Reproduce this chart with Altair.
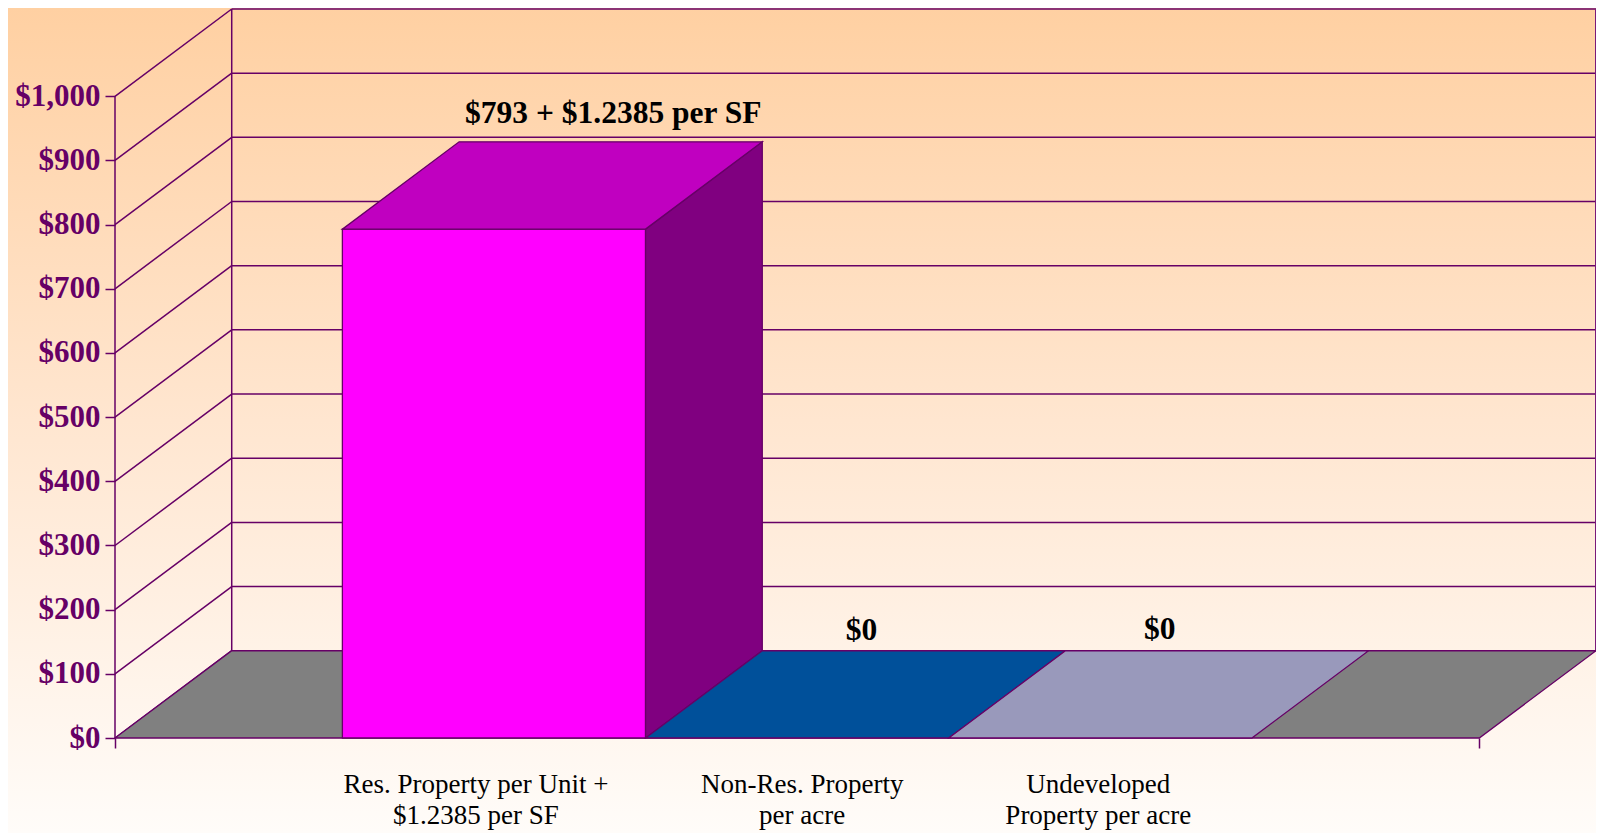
import altair as alt
import pandas as pd

# ---------------- data ----------------
CATEGORIES = [
    "Res. Property per Unit +\n$1.2385 per SF",
    "Non-Res. Property\nper acre",
    "Undeveloped\nProperty per acre",
]
VALUES = [793, 0, 0]
VALUE_LABELS = ["$793 + $1.2385 per SF", "$0", "$0"]
Y_TICKS = [0, 100, 200, 300, 400, 500, 600, 700, 800, 900, 1000]

FRONT_COLORS = ["#FF00FF", "#00509A", "#9999BB"]
TOP_COLORS = ["#C000C0", "#00509A", "#9999BB"]
SIDE_COLORS = ["#800080", "#003F7A", "#7A7A99"]
FLOOR_COLOR = "#808080"
LINE = "#660066"

# ---------------- geometry / style ----------------
PAD_LEFT = 107
W, H = 1481, 729
PAD_BOTTOM = 95
DX = 0.385          # depth offset in category units
DY = 136            # depth offset in value units
LEFT_GAP = 0.75
BAR_W = 1.0
AXIS_END = 4.5
XMAX = AXIS_END + DX
YMAX = 1000 + DY
LABEL_DX = [-18, 5, -2]
VALUE_DX = [61, 6, 1]
VALUE_DY = [-19, -11, -12]
SERIF = "Liberation Serif"

xscale = alt.Scale(domain=[0, XMAX], nice=False, zero=False)
yscale = alt.Scale(domain=[0, YMAX], nice=False, zero=False)
xaxis = alt.Axis(values=[0, AXIS_END], labels=False, domain=False, grid=False,
                 ticks=True, tickSize=10, tickColor=LINE, tickWidth=1.5, title=None,
                 zindex=1)
yaxis = alt.Axis(values=Y_TICKS, format="$,.0f", labelFont=SERIF, labelFontSize=31,
                 labelFontWeight="bold", labelColor=LINE, tickColor=LINE, tickSize=10,
                 tickWidth=1.5, labelPadding=5, domain=False, grid=False, title=None,
                 zindex=1)


def X(f):
    return alt.X(f, type="quantitative", scale=xscale, axis=xaxis)


def Y(f):
    return alt.Y(f, type="quantitative", scale=yscale, axis=yaxis)


layers = []

# background gradient
grad = {"gradient": "linear", "x1": 0, "y1": 0, "x2": 0, "y2": 1,
        "stops": [{"offset": 0, "color": "#FFD0A2"},
                  {"offset": 0.5, "color": "#FFE6D0"},
                  {"offset": 1, "color": "#FFFCF9"}]}
bg = alt.Chart(pd.DataFrame({"a": [0]})).mark_rect(fill=grad, strokeWidth=0).encode(
    x=alt.value(-PAD_LEFT), x2=alt.value(W + 2), y=alt.value(-1), y2=alt.value(H + PAD_BOTTOM))
layers.append(bg)

# walls: back gridlines + side diagonals + edges
rules = []
for v in Y_TICKS:
    rules.append({"x": DX, "x2": AXIS_END + DX, "y": v + DY, "y2": v + DY})
    rules.append({"x": 0, "x2": DX, "y": v, "y2": v + DY})
rules.append({"x": DX, "x2": DX, "y": DY, "y2": 1000 + DY})
rules.append({"x": 0, "x2": 0, "y": 0, "y2": 1000})
rule_chart = alt.Chart(pd.DataFrame(rules)).mark_rule(color=LINE, strokeWidth=1.5).encode(
    x=X("x"), x2="x2", y=Y("y"), y2="y2")
layers.append(rule_chart)

right_edge = alt.Chart(pd.DataFrame([{"x": AXIS_END + DX, "y": DY, "y2": 1000 + DY}])).mark_rule(
    color="#7A1A7A", strokeWidth=2).encode(x=X("x"), y=Y("y"), y2="y2")
layers.append(right_edge)


def poly(points, fill):
    df = pd.DataFrame(points, columns=["x", "lo", "hi"])
    return alt.Chart(df).mark_area(fill=fill, stroke=LINE, strokeWidth=1.3,
                                   interpolate="linear", opacity=1).encode(
        x=X("x"), y=Y("lo"), y2="hi")


def top_face(x0, x1, h):
    return [(x0, h, h), (x0 + DX, h, h + DY), (x1, h, h + DY), (x1 + DX, h + DY, h + DY)]


# floor
layers.append(poly(top_face(0, AXIS_END, 0), FLOOR_COLOR))

# bars
for i, v in enumerate(VALUES):
    x0 = LEFT_GAP + i * BAR_W
    x1 = x0 + BAR_W
    if v > 0:
        layers.append(poly([(x0, 0, v), (x1, 0, v)], FRONT_COLORS[i]))
        layers.append(poly([(x1, 0, v), (x1 + DX, DY, v + DY)], SIDE_COLORS[i]))
    layers.append(poly(top_face(x0, x1, v), TOP_COLORS[i]))

# category labels
for i, c in enumerate(CATEGORIES):
    xc = LEFT_GAP + (i + 0.5) * BAR_W
    t = alt.Chart(pd.DataFrame([{"xc": xc, "label": c}])).mark_text(
        font=SERIF, fontSize=27, color="black", baseline="alphabetic", align="center",
        lineBreak="\n", lineHeight=31, dx=LABEL_DX[i]).encode(
        x=X("xc"), y=alt.value(H + 55), text="label:N")
    layers.append(t)

# value labels
for i, (v, lab) in enumerate(zip(VALUES, VALUE_LABELS)):
    xc = LEFT_GAP + (i + 0.5) * BAR_W + DX / 2
    t = alt.Chart(pd.DataFrame([{"xc": xc, "yv": v + DY, "label": lab}])).mark_text(
        font=SERIF, fontSize=31.5, fontWeight="bold", color="black", baseline="alphabetic",
        align="center", dx=VALUE_DX[i], dy=VALUE_DY[i]).encode(
        x=X("xc"), y=Y("yv"), text="label:N")
    layers.append(t)

chart = alt.layer(*layers).properties(
    width=W, height=H,
    autosize=alt.AutoSizeParams(type="none"),
    padding={"left": PAD_LEFT, "top": 1, "right": 0, "bottom": PAD_BOTTOM},
    background="#FFFCF9",
).configure_view(stroke=None)

chart.save("out.html", embed_options={"renderer": "svg", "actions": False})
